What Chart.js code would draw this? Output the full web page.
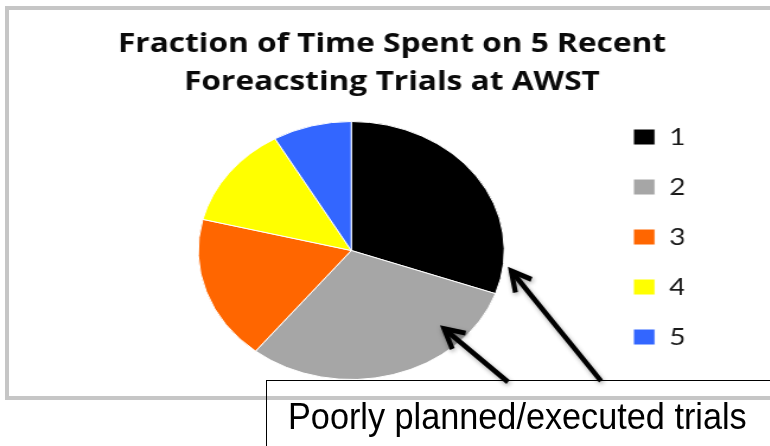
<!DOCTYPE html>
<html>
<head>
<meta charset="utf-8">
<script src="https://cdn.jsdelivr.net/npm/chart.js@4/dist/chart.umd.min.js"></script>
<style>
  html, body { margin: 0; padding: 0; background: #ffffff; }
  body { width: 770px; height: 446px; position: relative; overflow: hidden; }
  #frame {
    position: absolute; left: 5px; top: 6px; width: 900px; height: 386px;
    border: 4px solid #c6c6c6; border-right: none; box-sizing: content-box;
  }
  #wrap {
    position: absolute; left: 0; top: 0;
    transform: scaleX(1.186); transform-origin: 0 0;
  }
  #note {
    position: absolute; left: 266px; top: 380px; width: 600px; height: 100px;
    border: 1.5px solid #000000; background: transparent;
  }
  #noteText {
    position: absolute; left: 288px; top: 399px; white-space: nowrap;
    font-family: "Liberation Sans", Arial, sans-serif; font-size: 36px; line-height: 36px;
    color: #000000; transform: scaleX(0.951); transform-origin: 0 0;
  }
</style>
</head>
<body>
<div id="frame"></div>
<div id="wrap"><canvas id="pie" width="660" height="446"></canvas></div>
<div id="note"></div>
<div id="noteText">Poorly planned/executed trials</div>
<script>
// Trial numbers and the share of time spent on each (percent)
const trials = ['1', '2', '3', '4', '5'];
const timeShare = [30.4, 30.3, 18.1, 12.8, 8.3];
const sliceColors = ['#000000', '#a6a6a6', '#ff6600', '#ffff00', '#3366ff'];
const titleLines = ['Fraction of Time Spent on 5 Recent', 'Foreacsting Trials at AWST'];

// Horizontal stretch applied to the canvas by CSS
const STRETCH = 1.186;

// Callout arrows: tip given relative to a slice (fraction along its arc,
// fraction of the radius); tail given in page pixels on the note box
const callouts = [
  { slice: 0, along: 0.9, reach: 1.057, tail: [601, 381] },
  { slice: 1, along: 0.233, reach: 0.857, tail: [508, 382] }
];

const calloutPlugin = {
  id: 'callouts',
  afterDraw(chart) {
    const ctx = chart.ctx;
    const arcs = chart.getDatasetMeta(0).data;
    ctx.save();
    // draw in page pixel units so the CSS stretch leaves shapes undistorted
    ctx.setTransform(1 / STRETCH, 0, 0, 1, 0, 0);
    ctx.strokeStyle = '#000000';
    ctx.lineWidth = 5;
    ctx.lineJoin = 'miter';
    ctx.lineCap = 'butt';
    ctx.shadowColor = 'rgba(0,0,0,0.35)';
    ctx.shadowBlur = 4;
    ctx.shadowOffsetX = 1;
    ctx.shadowOffsetY = 2;
    callouts.forEach(c => {
      const arc = arcs[c.slice];
      const p = arc.getProps(['x', 'y', 'startAngle', 'endAngle', 'outerRadius'], true);
      const a = p.startAngle + (p.endAngle - p.startAngle) * c.along;
      const tx = (p.x + Math.cos(a) * p.outerRadius * c.reach) * STRETCH;
      const ty = p.y + Math.sin(a) * p.outerRadius * c.reach;
      const [sx, sy] = c.tail;
      const dir = Math.atan2(sy - ty, sx - tx);
      const len = 22, half = 28 * Math.PI / 180;
      ctx.beginPath();
      ctx.moveTo(sx, sy);
      ctx.lineTo(tx, ty);
      ctx.stroke();
      ctx.beginPath();
      ctx.moveTo(tx + Math.cos(dir - half) * len, ty + Math.sin(dir - half) * len);
      ctx.lineTo(tx, ty);
      ctx.lineTo(tx + Math.cos(dir + half) * len, ty + Math.sin(dir + half) * len);
      ctx.stroke();
    });
    ctx.restore();
  }
};

new Chart(document.getElementById('pie'), {
  type: 'pie',
  data: {
    labels: trials,
    datasets: [{
      data: timeShare,
      backgroundColor: sliceColors,
      borderColor: '#ffffff',
      borderWidth: 1,
      hoverOffset: 0,
      radius: 129
    }]
  },
  options: {
    responsive: false,
    animation: false,
    devicePixelRatio: 1,
    layout: { padding: { left: 84.4, right: 83.4, top: 0, bottom: 44 } },
    plugins: {
      tooltip: { enabled: false },
      title: {
        display: true,
        text: titleLines,
        color: '#0a0a0a',
        font: { family: '"Open Sans"', weight: 'bold', size: 26.7, lineHeight: '37.5px' },
        padding: { top: 26, bottom: -2 }
      },
      legend: {
        position: 'right',
        align: 'start',
        fullSize: false,
        maxWidth: 68.6,
        labels: {
          boxWidth: 18.3,
          boxHeight: 16,
          padding: 26,
          color: '#1a1a1a',
          font: { family: 'Lato', size: 24 }
        }
      }
    }
  },
  plugins: [calloutPlugin]
});
</script>
</body>
</html>
